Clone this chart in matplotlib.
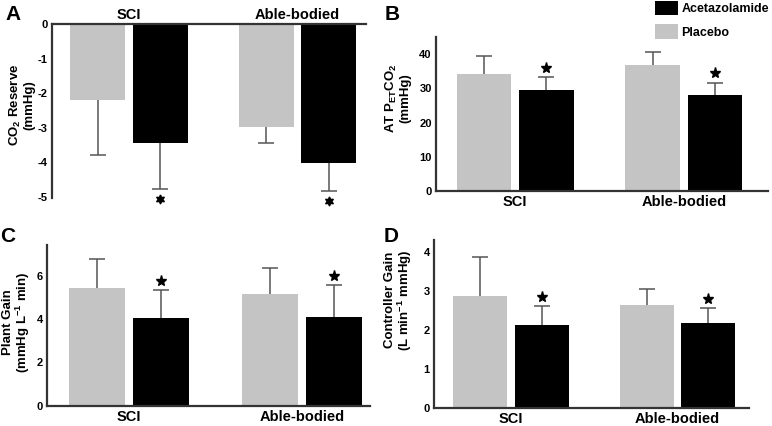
import matplotlib
matplotlib.use("Agg")
import matplotlib.pyplot as plt
from matplotlib.patches import Patch
from matplotlib.transforms import ScaledTranslation

plt.rcParams["font.family"] = ["Liberation Sans", "DejaVu Sans"]
plt.rcParams["font.weight"] = "bold"
plt.rcParams["mathtext.fontset"] = "custom"
plt.rcParams["mathtext.rm"] = "Liberation Sans:bold"
plt.rcParams["mathtext.bf"] = "Liberation Sans:bold"
plt.rcParams["mathtext.default"] = "rm"

groups = ["SCI", "Able-bodied"]

# A: CO2 reserve (mmHg)
reserve_placebo = [-2.20, -2.98]
reserve_placebo_err = [1.60, 0.46]
reserve_aceta = [-3.44, -4.01]
reserve_aceta_err = [1.33, 0.82]

# B: AT PETCO2 (mmHg)
atpet_placebo = [34.3, 36.7]
atpet_placebo_err = [5.1, 3.9]
atpet_aceta = [29.6, 28.0]
atpet_aceta_err = [3.7, 3.7]

# C: plant gain
plant_placebo = [5.45, 5.15]
plant_placebo_err = [1.35, 1.23]
plant_aceta = [4.06, 4.11]
plant_aceta_err = [1.29, 1.47]

# D: controller gain
ctrl_placebo = [2.88, 2.65]
ctrl_placebo_err = [1.01, 0.40]
ctrl_aceta = [2.13, 2.19]
ctrl_aceta_err = [0.50, 0.37]

W, H = 772, 426
PLACEBO = "#c4c4c4"
ACETA = "#000000"
ERRC = "#555555"
SPINE = "#333333"
BW = 0.325
OFF = 0.185

fig = plt.figure(figsize=(W / 100, H / 100), dpi=100)


def px_axes(left, top, right, bottom):
    return fig.add_axes([left / W, 1 - bottom / H, (right - left) / W, (bottom - top) / H])


def draw_panel(ax, plac, plac_err, acet, acet_err, negative=False):
    x = list(range(len(groups)))
    xp = [i - OFF for i in x]
    xa = [i + OFF for i in x]
    ax.bar(xp, plac, BW, color=PLACEBO, zorder=2)
    ax.bar(xa, acet, BW, color=ACETA, zorder=2)
    # symmetric bars drawn behind the bars, so only the outer half shows
    ax.errorbar(xp, plac, yerr=plac_err, fmt="none", ecolor=ERRC, elinewidth=1.1,
                capsize=5.5, capthick=1.1, zorder=1)
    ax.errorbar(xa, acet, yerr=acet_err, fmt="none", ecolor=ERRC, elinewidth=1.1,
                capsize=5.5, capthick=1.1, zorder=1)
    # significance markers
    for xi, v, e in zip(xa, acet, acet_err):
        if negative:
            tr = ax.transData + ScaledTranslation(0, -7 / 72, fig.dpi_scale_trans)
            ax.plot([xi], [v - e], marker=(6, 1, 0), color="black", markersize=6.5,
                    linestyle="none", clip_on=False, transform=tr)
        else:
            tr = ax.transData + ScaledTranslation(0, 6.5 / 72, fig.dpi_scale_trans)
            ax.plot([xi], [v + e], marker="*", color="black", markersize=8,
                    linestyle="none", clip_on=False, transform=tr)
    ax.set_xticks(x)
    ax.set_xticklabels(groups, fontsize=10.5, fontweight="bold")
    ax.spines["right"].set_visible(False)
    if negative:
        ax.spines["bottom"].set_visible(False)
        ax.xaxis.tick_top()
        ax.spines["top"].set_color(SPINE)
        ax.spines["top"].set_linewidth(1.6)
        ax.tick_params(axis="x", length=0, pad=1.5)
    else:
        ax.spines["top"].set_visible(False)
        ax.spines["bottom"].set_color(SPINE)
        ax.spines["bottom"].set_linewidth(1.6)
        ax.tick_params(axis="x", length=0, pad=3)
    ax.spines["left"].set_color(SPINE)
    ax.spines["left"].set_linewidth(1.6)
    ax.tick_params(axis="y", length=0, pad=3, labelsize=8)
    for t in ax.get_yticklabels():
        t.set_fontweight("bold")


# Panel A
ax_a = px_axes(52, 24, 366, 198)
draw_panel(ax_a, reserve_placebo, reserve_placebo_err, reserve_aceta, reserve_aceta_err, negative=True)
ax_a.set_ylim(-5.03, 0)
ax_a.set_xlim(-0.457, 1.407)
ax_a.set_yticks([0, -1, -2, -3, -4, -5])
ax_a.set_yticklabels(["0", "-1", "-2", "-3", "-4", "-5"])

# Panel B
ax_b = px_axes(436, 37, 768, 191)
draw_panel(ax_b, atpet_placebo, atpet_placebo_err, atpet_aceta, atpet_aceta_err)
ax_b.set_ylim(0, 45)
ax_b.set_xlim(-0.47, 1.50)
ax_b.set_yticks([0, 10, 20, 30, 40])

# Panel C
ax_c = px_axes(47, 245, 370, 405.5)
draw_panel(ax_c, plant_placebo, plant_placebo_err, plant_aceta, plant_aceta_err)
ax_c.set_ylim(0, 7.43)
ax_c.set_xlim(-0.475, 1.395)
ax_c.set_yticks([0, 2, 4, 6])

# Panel D
ax_d = px_axes(434, 240, 749, 408)
draw_panel(ax_d, ctrl_placebo, ctrl_placebo_err, ctrl_aceta, ctrl_aceta_err)
ax_d.set_ylim(0, 4.32)
ax_d.set_xlim(-0.462, 1.43)
ax_d.set_yticks([0, 1, 2, 3, 4])

# y labels
ylab = dict(rotation=90, ha="center", va="center", fontsize=9.5, fontweight="bold",
            linespacing=1.05)
fig.text(22 / W, 1 - 105 / H, "CO$_2$ Reserve\n(mmHg)", **ylab)
fig.text(398 / W, 1 - 98 / H, "AT P$_{\\mathrm{ET}}$CO$_2$\n(mmHg)", **ylab)
fig.text(17 / W, 1 - 322 / H, "Plant Gain\n(mmHg L$^{-1}$ min)", **ylab)
fig.text(399 / W, 1 - 300 / H, "Controller Gain\n(L min$^{-1}$ mmHg)", **ylab)

# panel letters
for lx, ly, letter in [(13, 15, "A"), (392, 15, "B"), (8, 236, "C"), (391, 236, "D")]:
    fig.text(lx / W, 1 - ly / H, letter, ha="center", va="center", fontsize=15, fontweight="bold")

# legend
handles = [Patch(facecolor=ACETA, label="Acetazolamide"),
           Patch(facecolor=PLACEBO, label="Placebo")]
fig.legend(handles=handles, loc="upper left", bbox_to_anchor=(655 / W, 1 - 1 / H),
           frameon=False, handlelength=1.8, handleheight=1.4,
           handletextpad=0.3, labelspacing=0.7, borderaxespad=0.0, borderpad=0.0,
           prop={"weight": "bold", "size": 9})

fig.savefig("out.png", dpi=100)
